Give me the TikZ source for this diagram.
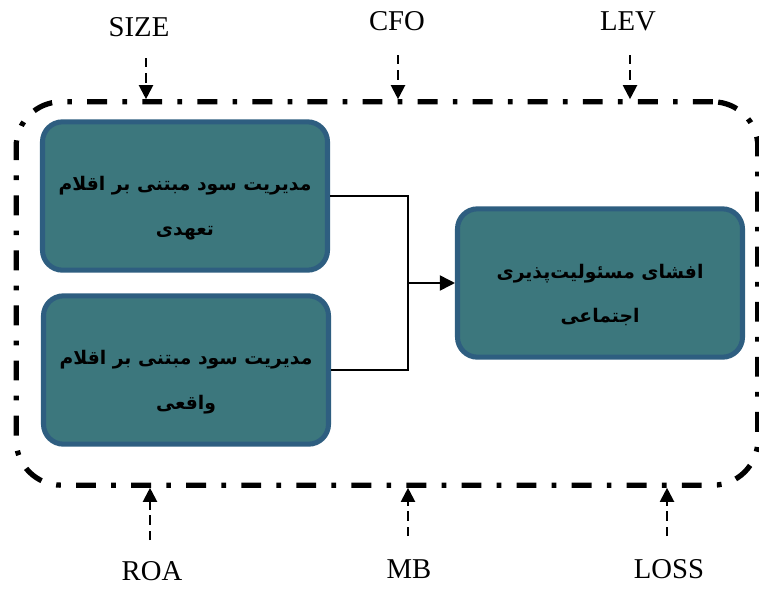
\documentclass[tikz,border=0pt]{standalone}
\usepackage{fontspec}
\setmainfont{Liberation Serif}
\newfontfamily\persianfont[Script=Arabic]{DejaVu Sans}
\TeXXeTstate=1
\usepackage{xcolor}
\usetikzlibrary{arrows.meta, positioning}
\usetikzlibrary{calc}

\definecolor{boxfill}{RGB}{60,119,125}
\definecolor{boxline}{RGB}{46,94,128}

\newcommand{\lowstrut}{\rule{0pt}{33pt}}

\tikzset{
    varbox/.style={draw=boxline, fill=boxfill, line width=4.3pt, rounded corners=0.6cm,
        minimum width=8.55cm, minimum height=4.45cm, align=center,
        font=\persianfont\bfseries\fontsize{16pt}{38pt}\selectfont},
    ctrl/.style={font=\fontsize{24.5pt}{27pt}\selectfont, inner sep=0pt},
    ctrlarrow/.style={dashed, dash pattern=on 8pt off 5pt, line width=1.8pt,
        -{Triangle[length=12pt, width=12pt]}},
    frameline/.style={line width=4.5pt, rounded corners=1.35cm,
        dash pattern=on 17pt off 13pt on 4pt off 13pt}
}

\begin{document}
\begin{tikzpicture}[x=0.03cm, y=-0.03cm]
    \useasboundingbox (0,0) rectangle (759,589);

    % dash-dot frame round the model
    \node[draw, frameline, minimum width=22.25cm, minimum height=11.5cm, inner sep=0pt] (frame) at (387,293.5) {};

    % the three boxes
    \node[varbox] (accrual) at (185,196) {\lowstrut\beginR مدیریت سود مبتنی بر اقلام\endR\\\beginR تعهدی\endR};
    \node[varbox] (real) at (186,370) {\lowstrut\beginR مدیریت سود مبتنی بر اقلام\endR\\\beginR واقعی\endR};
    \node[varbox] (csr) at (600,283) {\lowstrut\beginR افشای مسئولیت‌پذیری\endR\\\beginR اجتماعی\endR};

    \coordinate (join) at (408,283);
    \draw[line width=1.4pt] (accrual.east) -| (join) |- (real.east);
    \draw[line width=1.4pt, -{Triangle[length=13pt, width=13pt]}] (join) -- (csr.west);

    % control variables
    \node[ctrl] (size) at (139,27) {SIZE};
    \node[ctrl] (cfo) at (397,21) {CFO};
    \node[ctrl] (lev) at (628,21) {LEV};
    \node[ctrl] (roa) at (152,571) {ROA};
    \node[ctrl] (mb) at (409,569) {MB};
    \node[ctrl] (loss) at (669,569) {LOSS};

    \coordinate (sizein) at (146,58);
    \coordinate (cfoin) at (398,55);
    \coordinate (levin) at (630,55);
    \coordinate (roain) at (150,540);
    \coordinate (mbin) at (408,536);
    \coordinate (lossin) at (667,536);
    \foreach \c in {sizein, cfoin, levin}
        \draw[ctrlarrow] (\c) -- (\c |- frame.north);
    \foreach \c in {roain, mbin, lossin}
        \draw[ctrlarrow] (\c) -- (\c |- frame.south);
\end{tikzpicture}
\end{document}
